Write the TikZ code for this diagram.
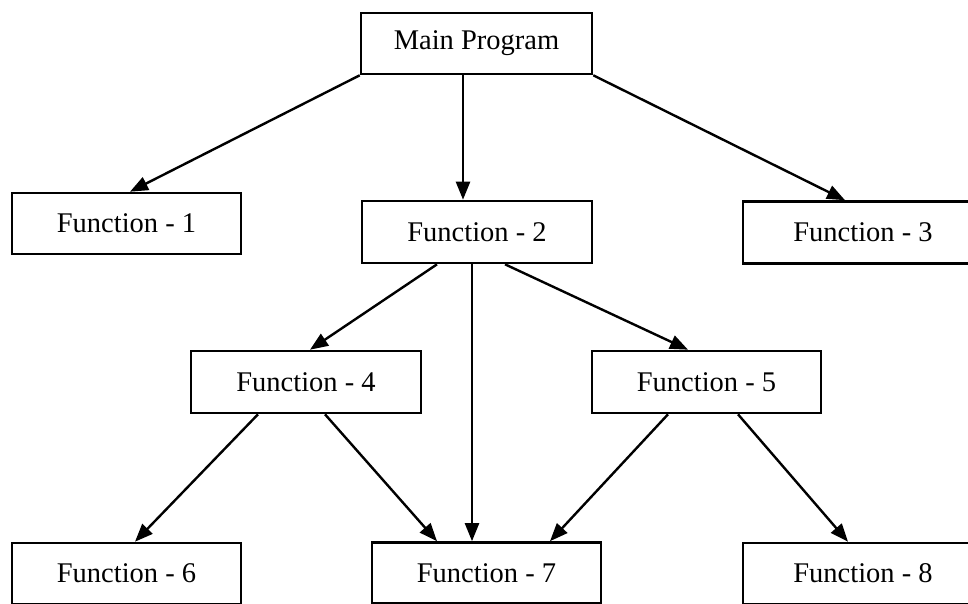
\documentclass[tikz,border=0pt]{standalone}
\usepackage{fontspec}
\setmainfont{Liberation Serif}
\usetikzlibrary{arrows.meta}
\begin{document}
\begin{tikzpicture}[x=1pt,y=-1pt,
  fbox/.style={draw=black, line width=2.6pt, fill=white, inner sep=0pt,
    font=\fontsize{28.5}{32}\selectfont},
  link/.style={line width=2.4pt, -{Triangle[length=18pt,width=14pt]}}]
  \fill[white] (0,0) rectangle (968,603);
  \useasboundingbox (0,0) rectangle (968,603);
  \clip (0,0) rectangle (968,603);

  % call hierarchy boxes
  \node[fbox, minimum width=231pt, minimum height=61pt] (main) at (476.5,43.5) {Main Program};
  \node[fbox, minimum width=229pt, minimum height=61pt] (f1) at (126.5,223.5) {Function - 1};
  \node[fbox, minimum width=230pt, minimum height=62pt] (f2) at (477,232) {Function - 2};
  \node[fbox, minimum width=240pt, minimum height=62pt] (f3) at (863,232.5) {Function - 3};
  \node[fbox, minimum width=230pt, minimum height=62pt] (f4) at (306,382) {Function - 4};
  \node[fbox, minimum width=229pt, minimum height=62pt] (f5) at (706.5,382) {Function - 5};
  \node[fbox, minimum width=229pt, minimum height=61pt] (f6) at (126.5,573.5) {Function - 6};
  \node[fbox, minimum width=229pt, minimum height=61pt] (f7) at (486.5,573) {Function - 7};
  \node[fbox, minimum width=240pt, minimum height=61pt] (f8) at (863,573.5) {Function - 8};

  % calls
  \draw[link] (main.south west) -- ([xshift=3.5pt]f1.north);
  \draw[link] ([xshift=-13.5pt]main.south) -- ([xshift=-14pt]f2.north);
  \draw[link] (main.south east) -- ([xshift=-18pt]f3.north);
  \draw[link] ([xshift=-40pt]f2.south) -- ([xshift=4pt]f4.north);
  \draw[link] ([xshift=-5pt]f2.south) -- ([xshift=-14.5pt]f7.north);
  \draw[link] ([xshift=28pt]f2.south) -- ([xshift=-18.5pt]f5.north);
  \draw[link] ([xshift=-48pt]f4.south) -- ([xshift=8.5pt]f6.north);
  \draw[link] ([xshift=19pt]f4.south) -- ([xshift=-49.5pt]f7.north);
  \draw[link] ([xshift=-38.5pt]f5.south) -- ([xshift=63.5pt]f7.north);
  \draw[link] ([xshift=31.5pt]f5.south) -- ([xshift=-15pt]f8.north);
\end{tikzpicture}
\end{document}
